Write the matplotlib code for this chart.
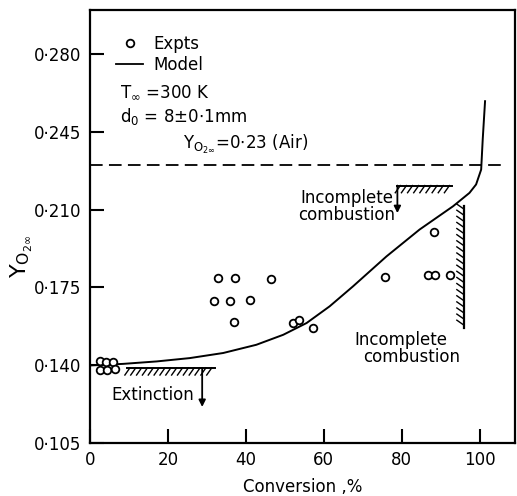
import matplotlib
matplotlib.use('Agg')
import matplotlib.pyplot as plt
import matplotlib.patheffects as pe
import matplotlib.lines as mlines

plt.rcParams['font.family'] = ['DejaVu Sans']
plt.rcParams['mathtext.fontset'] = 'dejavusans'

# 实验点 (转化率 %, 环境氧浓度)
expt_conv = [2.6, 4.1, 5.8, 2.6, 4.3, 6.4,
             32.8, 37.2, 31.8, 35.9, 41.2, 37.0, 46.4,
             52.0, 53.7, 57.3, 75.8, 86.8, 88.5, 92.3, 88.3]
expt_y = [0.1417, 0.1415, 0.1415, 0.1379, 0.1379, 0.1385,
          0.1794, 0.1794, 0.169, 0.169, 0.1695, 0.1593, 0.179,
          0.159, 0.1602, 0.1567, 0.1797, 0.1805, 0.1805, 0.1805, 0.2000]

# 模型曲线
model_conv = [0, 8.5, 17.1, 25.6, 34.2, 42.7, 49.6, 55.6, 61.5, 67.5, 76.1,
              84.6, 93.2, 97.4, 99.1, 100.4, 100.8, 101.4]
model_y = [0.1399, 0.1406, 0.1417, 0.1432, 0.1455, 0.1492, 0.1537, 0.1590,
           0.1665, 0.1755, 0.1890, 0.2011, 0.2116, 0.2176, 0.2214, 0.2281, 0.2417, 0.2589]

# 空气中氧浓度
y_air = 0.23

# 熄火 / 不完全燃烧边界
ext_conv = [9.5, 32.0]
ext_y = 0.1388
ext_arrow = (28.8, 0.1212)
inc_top_conv = [78.9, 93.0]
inc_top_y = 0.2209
inc_top_arrow = 0.2085
inc_right_conv = 96.0
inc_right_y = [0.2116, 0.1567]

yticks = [0.105, 0.140, 0.175, 0.210, 0.245, 0.280]
ytick_labels = ['0\u00b7105', '0\u00b7140', '0\u00b7175', '0\u00b7210', '0\u00b7245', '0\u00b7280']
xticks = [0, 20, 40, 60, 80, 100]
xtick_labels = ['0', '20', '40', '60', '80', '100']

fig = plt.figure(figsize=(5.17, 4.96), dpi=100)
ax = fig.add_axes([0.174, 0.107, 0.823, 0.873])

ax.plot(model_conv, model_y, color='black', lw=1.4, solid_joinstyle='round')
ax.plot(expt_conv, expt_y, 'o', mfc='white', mec='black', ms=5.5, mew=1.3, zorder=3)
ax.plot([0, 105.6], [y_air, y_air], color='black', lw=1.3, dashes=(7, 3.5))

# 带阴影的边界线
hatch = [pe.withTickedStroke(angle=-125, spacing=4.2, length=1.5, linewidth=1.0)]
ax.plot(ext_conv, [ext_y, ext_y], color='black', lw=1.4, path_effects=hatch)
ax.plot(inc_top_conv, [inc_top_y, inc_top_y], color='black', lw=1.4, path_effects=hatch)
ax.plot([inc_right_conv, inc_right_conv], inc_right_y, color='black', lw=1.6, path_effects=hatch)

arrow = dict(arrowstyle='-|>', color='black', lw=1.3, mutation_scale=10, shrinkA=0, shrinkB=0)
ax.annotate('', xy=ext_arrow, xytext=(ext_arrow[0], ext_y), arrowprops=arrow)
ax.annotate('', xy=(inc_top_conv[0], inc_top_arrow), xytext=(inc_top_conv[0], inc_top_y),
            arrowprops=arrow)

ax.text(5.4, 0.1267, 'Extinction', fontsize=12, ha='left', va='center')
ax.text(66.0, 0.2115, 'Incomplete\ncombustion', fontsize=12, ha='center', va='center',
        linespacing=0.95)
ax.text(79.8, 0.1512, 'Incomplete', fontsize=12, ha='center', va='center')
ax.text(82.5, 0.1437, 'combustion', fontsize=12, ha='center', va='center')

# 图例及工况说明
h_expt = mlines.Line2D([], [], ls='none', marker='o', mfc='white', mec='black', ms=5.5, mew=1.3)
h_model = mlines.Line2D([], [], color='black', lw=1.3)
ax.legend([h_expt, h_model], ['Expts', 'Model'], loc='upper left',
          bbox_to_anchor=(0.062, 0.943), frameon=False, fontsize=12,
          handlelength=1.6, handletextpad=0.6, labelspacing=0.2,
          borderpad=0, borderaxespad=0)
ax.text(0.0704, 0.811, r'$\mathregular{T_{\infty}}$ =300 K', transform=ax.transAxes,
        fontsize=12, va='center')
ax.text(0.0704, 0.753, r'$\mathregular{d_{0}}$ = 8$\pm$0$\cdot$1mm', transform=ax.transAxes,
        fontsize=12, va='center')
ax.text(0.218, 0.69, r'$\mathregular{Y_{O_{2\infty}}}$=0$\cdot$23 (Air)', transform=ax.transAxes,
        fontsize=12, va='center')

ax.set_xlim(0, 109.2)
ax.set_ylim(0.105, 0.300)
ax.set_xticks(xticks)
ax.set_xticklabels(xtick_labels)
ax.set_yticks(yticks)
ax.set_yticklabels(ytick_labels)
ax.tick_params(direction='in', length=10, width=1.5, labelsize=12, pad=6)

ax.set_xlabel('Conversion ,%', fontsize=12, labelpad=6)
ax.set_ylabel(r'$\mathregular{Y_{O_{2\infty}}}$', fontsize=16, va='center')
ax.yaxis.set_label_coords(-0.16, 0.43)

for s in ax.spines.values():
    s.set_linewidth(1.6)

fig.savefig('out.png', dpi=100)
